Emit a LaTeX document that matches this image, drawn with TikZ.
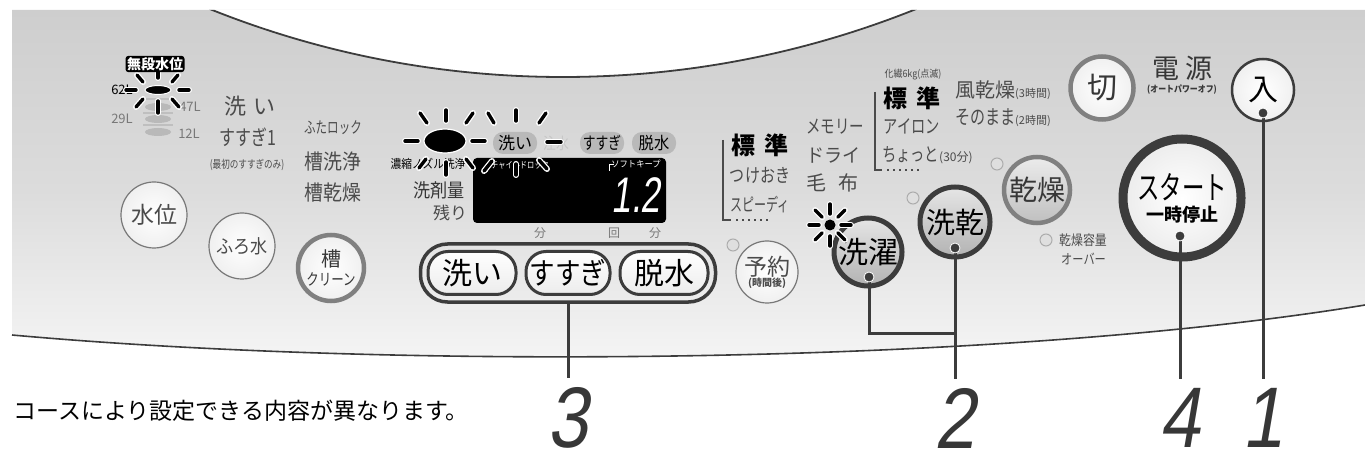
\documentclass[tikz,border=0pt]{standalone}
\usepackage{fontspec}
\setmainfont{Noto Sans CJK JP}
\newfontfamily\numfont[FakeSlant=0.2]{Liberation Sans}
\usetikzlibrary{calc,positioning,fit}
\definecolor{PanelTop}{RGB}{206,206,206}
\definecolor{PanelMid}{RGB}{220,220,220}
\definecolor{PanelLow}{RGB}{246,246,246}
\definecolor{InkGray}{RGB}{55,55,55}
\definecolor{TextGray}{RGB}{75,75,75}
\definecolor{FaintGray}{RGB}{120,120,120}
\definecolor{RingGray}{RGB}{128,128,128}
\definecolor{RingDark}{RGB}{60,60,60}
\newcommand{\fsz}[1]{\fontsize{#1bp}{#1bp}\selectfont}
\newcommand{\narrow}[2]{\scalebox{#1}[1]{#2}}
\newcommand{\blink}[2]{\draw[raywhite] #1 -- #2; \draw[rayblack] #1 -- #2;}
\tikzset{
    lbl/.style={inner sep=0pt, text=TextGray},
    lightbtn/.style={circle, draw=FaintGray, line width=1.2bp, inner color=white, outer color=gray!12, inner sep=0pt, text=TextGray},
    ringbtn/.style={circle, draw=RingGray, line width=4.5bp, inner color=white, outer color=gray!12, inner sep=0pt, text=InkGray},
    darkbtn/.style={circle, draw=RingDark, line width=5bp, top color=gray!20, bottom color=gray!60, inner sep=0pt, text=black},
    greybtn/.style={circle, draw=RingGray, line width=4.5bp, top color=gray!15, bottom color=gray!50, inner sep=0pt, text=InkGray},
    pillbtn/.style={draw=RingDark, line width=3bp, rounded corners=20bp, top color=white, bottom color=gray!15, minimum height=43bp, inner sep=0pt, font=\fsz{30}, text=black},
    indpill/.style={fill=gray!55, rounded corners=10bp, minimum height=22bp, minimum width=44bp, inner sep=0pt, font=\fsz{17}, text=black},
    led/.style={circle, draw=gray!65, line width=1bp, fill=gray!25, minimum size=12bp, inner sep=0pt},
    leader/.style={draw=RingDark, line width=3bp},
    pin/.style={circle, fill=RingDark, draw=white, line width=0.8bp, minimum size=10bp, inner sep=0pt},
    numlabel/.style={font=\numfont\fsz{86}, text=InkGray, inner sep=0pt},
    raywhite/.style={white, line width=6bp, line cap=round},
    rayblack/.style={black, line width=3.4bp, line cap=round},
    dotrow/.style={TextGray, line width=2bp, dash pattern=on 2bp off 4bp},
    bracketline/.style={TextGray, line width=1.5bp},
}

\begin{document}
\begin{tikzpicture}[x=1bp, y=-1bp]
\useasboundingbox (0,0) rectangle (1365,456);
\path[top color=PanelTop, bottom color=PanelLow, middle color=PanelMid]
  (12,10) -- (1365,10) -- (1365,305) .. controls (1000,365) and (400,370) .. (12,335) -- cycle;
\begin{scope}
  \clip (12,10) -- (1365,10) -- (1365,305) .. controls (1000,365) and (400,370) .. (12,335) -- cycle;
  \draw[fill=white, draw=RingDark, line width=1.8bp] (563,-871) circle (948);
\end{scope}
\draw[RingDark, line width=1.6bp] (12,335) .. controls (400,370) and (1000,365) .. (1365,305);

\foreach \y in {99,113,125} \draw[gray!50, line width=1.3bp] (143,\y) -- (173,\y);
\foreach \y in {107,119,132} \fill[gray!55] (158,\y) ellipse (13 and 4);
\node[lbl, text=black, font=\fsz{13}] (lv62) at (122,90) {62L};
\node[lbl, text=FaintGray, font=\fsz{13}] (lv47) at (190,107) {47L};
\node[lbl, text=FaintGray, font=\fsz{13}] (lv29) at (122,119) {29L};
\node[lbl, text=FaintGray, font=\fsz{13}] (lv12) at (189,134) {12L};
\blink{(126,90)}{(136,90)}
\blink{(179,90)}{(189,90)}
\blink{(137,75)}{(143,82)}
\blink{(158,70)}{(158,78)}
\blink{(178,75)}{(172,82)}
\blink{(136,107)}{(143,99)}
\blink{(158,101)}{(158,113)}
\blink{(179,107)}{(172,99)}
\filldraw[fill=black, draw=white, line width=1bp] (158,90) ellipse (13 and 4.5);
\node[fill=black, text=white, rounded corners=3bp, inner sep=1.5bp, font=\bfseries\fsz{14}] (mudan) at (155,64) {無段水位};

\node[lbl, font=\fsz{22}] (arai1) at (250,106) {洗\hspace{8bp}い};
\node[lbl, font=\fsz{21}] (susugi1) at (248,137) {\narrow{0.76}{すすぎ1}};
\node[lbl, font=\fsz{11}] (saisho) at (247,165) {\narrow{0.78}{(最初のすすぎのみ)}};
\node[lbl, font=\fsz{16}] (futa) at (333,128) {\narrow{0.72}{ふたロック}};
\node[lbl, font=\fsz{21}] (souse) at (333,162) {\narrow{0.9}{槽洗浄}};
\node[lbl, font=\fsz{21}] (souka) at (333,193) {\narrow{0.9}{槽乾燥}};

\node[lightbtn, minimum size=66bp, font=\fsz{23}] (suii) at (154,215) {水位};
\node[lightbtn, minimum size=66bp, font=\fsz{19}] (furo) at (242,246) {\narrow{0.9}{ふろ水}};
\node[ringbtn, minimum size=66bp, align=center] (sou) at (331,268) {\fsz{20}槽\\[3bp]\fsz{16}\narrow{0.78}{クリーン}};

\node[lbl, text=black, font=\fsz{12}] (nozzle) at (428,164) {\narrow{0.89}{濃縮ノズル洗浄}};
\node[lbl, text=InkGray, font=\fsz{19}] (senzai) at (439,190) {\narrow{0.9}{洗剤量}};
\node[lbl, font=\fsz{17}] (nokori) at (450,213) {残り};

\node[fill=black, rounded corners=4bp, minimum width=193bp, minimum height=65bp, inner sep=0pt] (disp) at (569.5,190.5) {};
\node[lbl, text=white, font=\fsz{9}] (child) at (520,165) {\narrow{0.8}{チャイルドロック}};
\node[lbl, text=white, font=\fsz{9}] (softkeep) at (636,164) {\narrow{0.92}{ソフトキープ}};
\draw[white, line width=1bp] (487,172) -- (487,167) -- (490,164);
\draw[white, line width=1bp] (609,171) -- (609,165) -- (614,165);
\node[lbl, text=white, font=\numfont\fsz{50}] (remain) at (636,195) {\narrow{0.7}{1.2}};
\node[lbl, text=FaintGray, font=\fsz{12}] (fun1) at (540,233) {分};
\node[lbl, text=FaintGray, font=\fsz{12}] (kai) at (614,233) {回};
\node[lbl, text=FaintGray, font=\fsz{12}] (fun2) at (655,233) {分};

\node[indpill] (iarai) at (515,143) {洗い};
\node[lbl, text=gray!45, font=\fsz{16}] (chusui) at (556,143) {\narrow{0.8}{注水}};
\node[indpill] (isusugi) at (602,143) {\narrow{0.75}{すすぎ}};
\node[indpill] (idassui) at (654,143) {\narrow{0.9}{脱水}};
\blink{(405,141)}{(418,141)}
\blink{(472,141)}{(485,141)}
\blink{(420,113)}{(427,123)}
\blink{(446,110)}{(446,121)}
\blink{(473,113)}{(466,123)}
\blink{(419,168)}{(426,159)}
\blink{(446,162)}{(446,175)}
\blink{(466,159)}{(473,168)}
\blink{(488,113)}{(494,123)}
\blink{(516,110)}{(516,121)}
\blink{(546,113)}{(539,123)}
\blink{(547,142)}{(561,142)}
\blink{(484,171)}{(492,161)}
\blink{(516,164)}{(516,175)}
\blink{(539,160)}{(547,169)}
\filldraw[fill=black, draw=white, line width=1.2bp] (445,141) ellipse (21 and 12);

\node[pillbtn, minimum width=88bp] (arau) at (472,273) {洗い};
\node[pillbtn, minimum width=84bp, right=7bp of arau] (susugi) {\narrow{0.85}{すすぎ}};
\node[pillbtn, minimum width=88bp, right=7bp of susugi] (dassui) {脱水};
\node[draw=RingDark, line width=3.5bp, rounded corners=27bp, inner sep=6bp, fit=(arau)(susugi)(dassui)] (phasebox) {};

\draw[bracketline] (723,140) -- (723,220) -- (731,220);
\draw[dotrow] (736,220) -- (768,220);
\node[lbl, text=black, font=\bfseries\fsz{24}] (hyo1) at (760,145) {標\hspace{10bp}準};
\node[lbl, font=\fsz{19}] (tsuke) at (760,175) {\narrow{0.79}{つけおき}};
\node[lbl, font=\fsz{18}] (speedy) at (760,205) {\narrow{0.67}{スピーディ}};
\node[lbl, anchor=west, font=\fsz{19}] (memory) at (806,127) {\narrow{0.76}{メモリー}};
\node[lbl, anchor=west, font=\fsz{19}] (dry) at (806,155) {\narrow{0.95}{ドライ}};
\node[lbl, anchor=west, font=\fsz{20}] (moufu) at (806,183) {毛\hspace{12bp}布};
\draw[bracketline] (875,92) -- (875,170) -- (882,170);
\draw[dotrow] (887,170) -- (920,170);
\node[lbl, font=\fsz{10}] (kasen) at (913,75) {\narrow{0.9}{化繊6kg(点滅)}};
\node[lbl, text=black, font=\bfseries\fsz{24}] (hyo2) at (912,98) {標\hspace{10bp}準};
\node[lbl, font=\fsz{19}] (iron) at (912,126) {\narrow{0.75}{アイロン}};
\node[lbl, anchor=west, font=\fsz{19}] (chotto) at (882,155) {\narrow{0.75}{ちょっと}{\fsz{12}(30分)}};
\node[lbl, anchor=west, font=\fsz{20}] (kaze) at (955,90) {風乾燥{\fsz{11}(3時間)}};
\node[lbl, anchor=west, font=\fsz{20}] (sono) at (955,118) {\narrow{0.75}{そのまま}{\fsz{11}(2時間)}};

\node[led] (ledyoyaku) at (733,245) {};
\node[led] (ledsenkan) at (913,198) {};
\node[led] (ledkanso) at (997,164) {};
\node[led] (ledover) at (1046,240) {};
\node[lbl, font=\fsz{14}, anchor=west] (overa) at (1059,240) {\narrow{0.85}{乾燥容量}};
\node[lbl, font=\fsz{14}, anchor=west] (overb) at (1061,259) {\narrow{0.8}{オーバー}};

\node[lightbtn, minimum size=62bp, align=center] (yoyaku) at (767,272) {\fsz{23}予約\\[-1bp]\bfseries\fsz{10}(時間後)};
\node[darkbtn, minimum size=68bp, font=\fsz{30}] (sentaku) at (868,252) {洗濯};
\node[darkbtn, minimum size=70bp, font=\fsz{29}] (senkan) at (955,222) {洗乾};
\node[greybtn, minimum size=66bp, font=\fsz{28}] (kanso) at (1037,190) {乾燥};
\node[ringbtn, minimum size=63bp, font=\fsz{30}] (kiri) at (1102,88) {切};
\node[lbl, text=InkGray, font=\fsz{27}] (dengen) at (1182,68) {電\hspace{6bp}源};
\node[lbl, text=InkGray, font=\bfseries\fsz{9}, below=4bp of dengen] (autooff) {\narrow{0.88}{(オートパワーオフ)}};
\node[lightbtn, draw=RingDark, line width=2.5bp, minimum size=62bp, font=\fsz{30}, text=black] (iri) at (1263,90) {入};
\node[circle, draw=RingDark, line width=9bp, inner color=white, outer color=gray!15, minimum size=118bp, inner sep=0pt, align=center, text=black] (start) at (1182,198) {\fsz{32}\narrow{0.7}{スタート}\\[4bp]\bfseries\fsz{18}一時停止};

\coordinate (wblink) at (830,225);
\foreach \a in {0,45,...,315} {\blink{($(wblink)+(\a:11)$)}{($(wblink)+(\a:21)$)}}
\fill[black] (wblink) circle (5.5);

\coordinate (p1) at (1263,113);
\coordinate (p4) at (1180,236);
\coordinate (p2a) at (869,277);
\coordinate (p2b) at (955,248);
\node[numlabel] (num1) at (p1 |- 0,418) {\narrow{0.85}{1}};
\node[numlabel] (num4) at (p4 |- 0,418) {\narrow{0.85}{4}};
\node[numlabel] (num2) at (p2b |- 0,418) {\narrow{0.85}{2}};
\node[numlabel] (num3) at (phasebox.south |- 0,418) {\narrow{0.85}{3}};
\draw[leader, shorten >=9bp] (p1) -- (num1);
\draw[leader, shorten >=9bp] (p4) -- (num4);
\draw[leader, shorten >=9bp] (p2b) -- (num2);
\draw[leader, line join=miter] (p2a) -- (p2a |- 0,333) -- (p2b |- 0,333);
\draw[leader, shorten >=9bp] (phasebox.south) -- (num3);
\node[pin] (pin1) at (p1) {};
\node[pin] (pin4) at (p4) {};
\node[pin] (pin2a) at (p2a) {};
\node[pin] (pin2b) at (p2b) {};

\node[lbl, text=black, font=\fsz{23}, anchor=west] (note) at (13,411) {コースにより設定できる内容が異なります。};
\end{tikzpicture}
\end{document}
